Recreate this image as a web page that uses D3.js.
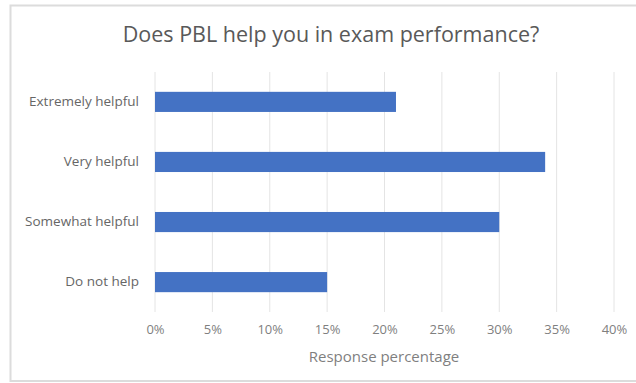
<!DOCTYPE html>
<html><head><meta charset="utf-8">
<script src="https://cdn.jsdelivr.net/npm/d3@7"></script>
<style>body{margin:0;background:#fff}svg{display:block}</style>
</head><body>
<svg id="c" width="636" height="383"></svg>
<script>
const categories = ["Extremely helpful", "Very helpful", "Somewhat helpful", "Do not help"];
const values = [21, 34, 30, 15];
const tickValues = [0, 5, 10, 15, 20, 25, 30, 35, 40];
const titleText = "Does PBL help you in exam performance?";
const xAxisTitle = "Response percentage";

const svg = d3.select("#c");
const font = "'Open Sans', sans-serif";
svg.append("rect").attr("x", 10.5).attr("y", 5.5).attr("width", 640).attr("height", 375.5)
  .attr("fill", "#fff").attr("stroke", "#dcdcdc").attr("stroke-width", 2);

const m = {left: 155, right: 614, top: 72, bottom: 312};
const x = d3.scaleLinear().domain([0, 40]).range([m.left, m.right]);
const y = d3.scaleBand().domain(categories).range([m.top, m.bottom]).paddingInner(0.665).paddingOuter(0.33);

svg.append("g").selectAll("line").data(tickValues).join("line")
  .attr("x1", d => x(d)).attr("x2", d => x(d)).attr("y1", m.top).attr("y2", m.bottom)
  .attr("stroke", "#e4e4e4").attr("stroke-width", 1);

svg.append("g").selectAll("rect").data(categories).join("rect")
  .attr("x", x(0)).attr("y", d => y(d)).attr("height", y.bandwidth())
  .attr("width", (d, i) => x(values[i]) - x(0)).attr("fill", "#4472c4");

const xa = svg.append("g").attr("transform", `translate(0,${m.bottom})`)
  .call(d3.axisBottom(x).tickValues(tickValues).tickFormat(d => d + "%").tickSize(0).tickPadding(13));
xa.select(".domain").remove();
xa.selectAll("text").attr("font-family", font).attr("font-size", 13).attr("fill", "#7f7f7f");

const ya = svg.append("g").attr("transform", `translate(${m.left},0)`)
  .call(d3.axisLeft(y).tickSize(0).tickPadding(16));
ya.select(".domain").remove();
ya.selectAll("text").attr("font-family", font).attr("font-size", 13.5).attr("fill", "#666");

svg.append("text").attr("x", 331).attr("y", 42).attr("text-anchor", "middle")
  .attr("font-family", font).attr("font-size", 21.5).attr("fill", "#595959").text(titleText);
svg.append("text").attr("x", 384).attr("y", 362).attr("text-anchor", "middle")
  .attr("font-family", font).attr("font-size", 15).attr("fill", "#7f7f7f").text(xAxisTitle);
</script>
</body></html>
